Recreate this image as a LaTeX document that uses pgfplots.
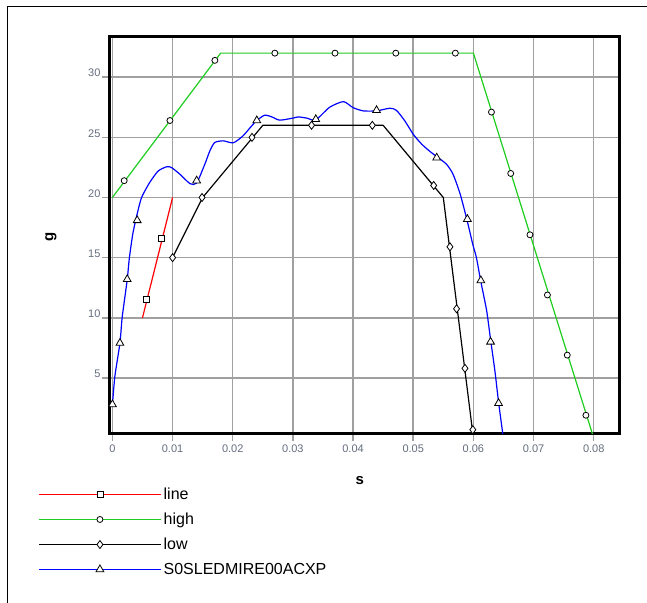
\documentclass[border=0pt]{standalone}
\usepackage{fontspec}
\setmainfont{Liberation Sans}
\usepackage{pgfplots}
\pgfplotsset{compat=1.18}
\usetikzlibrary{calc}
\definecolor{gridgray}{RGB}{160,160,160}
\definecolor{ticktext}{RGB}{100,108,125}
\definecolor{lgreen}{RGB}{30,205,30}

\begin{document}
\begin{tikzpicture}
\begin{axis}[
  name=ax, anchor=south west,
  scale only axis, width=509pt, height=397pt,
  xmin=-0.0004, xmax=0.0842, ymin=0.4, ymax=33.4,
  scaled x ticks=false, scaled y ticks=false,
  xtick={0,0.01,0.02,0.03,0.04,0.05,0.06,0.07,0.08},
  xticklabels={0,0.01,0.02,0.03,0.04,0.05,0.06,0.07,0.08},
  ytick={5,10,15,20,25,30},
  yticklabels={5,10,15,20,25,30},
  xtick pos=bottom, ytick pos=left,
  tick align=outside, major tick length=8pt,
  tick style={gridgray, line width=1.5pt},
  grid=major, major grid style={gridgray, line width=1.5pt},
  axis line style={line width=3pt},
  ticklabel style={font=\fontsize{11}{12}\selectfont, text=ticktext},
  yticklabel style={yshift=4pt, xshift=2pt},
  xlabel={s}, ylabel={g},
  label style={font=\fontsize{15}{16}\selectfont\bfseries},
  xlabel style={at={(axis description cs:0.491,-0.118)}, anchor=center},
  ylabel style={at={(axis description cs:-0.116,0.494)}, anchor=center},
  legend style={at={(axis description cs:-0.1415,-0.1318)}, anchor=north west,
    draw=none, fill=none, font=\fontsize{16}{18}\selectfont,
    row sep=8pt, inner sep=0pt},
  legend cell align=left,
  legend image code/.code={%
    \draw[#1,mark=none,line width=1.5pt] (0pt,0pt) -- (122pt,0pt);
    \draw[#1,draw=none,mark repeat=2,mark phase=2]
      plot coordinates {(0pt,0pt) (61pt,0pt) (122pt,0pt)};},
  every axis plot/.append style={line width=1.2pt},
]
% line
\addplot[red, mark=square*, mark size=3pt, mark phase=999,
  mark options={black, fill=white, line width=0.8pt}]
  coordinates {(0.005,10) (0.010,20)};
\addlegendentry{line}
% high
\addplot[lgreen, mark=*, mark size=3pt, mark phase=999,
  mark options={black, fill=white, line width=0.8pt}]
  coordinates {(0,20) (0.018,32) (0.060,32) (0.080,0)};
\addlegendentry{high}
% low
\addplot[black, mark=diamond*, mark size=4pt, mark phase=999,
  mark options={black, fill=white, line width=0.8pt}]
  coordinates {(0.010,15) (0.015,20) (0.025,26) (0.045,26) (0.055,20) (0.060,0)};
\addlegendentry{low}
% S0SLEDMIRE00ACXP
\addplot[blue, smooth, tension=0.4, mark=triangle*, mark size=4.5pt, mark phase=999,
  mark options={black, fill=white, line width=0.8pt}]
  coordinates {
  (0,2.7) (0.0004,5.1) (0.00125,7.9) (0.00163,10.06) (0.00246,13.16)
  (0.0028,14.9) (0.0034,17.0) (0.0041,18.6) (0.00485,20.0) (0.0062,21.25)
  (0.0076,22.2) (0.009,22.55) (0.0098,22.5) (0.0113,21.9) (0.0129,21.15)
  (0.0140,21.2) (0.01537,22.78) (0.0162,23.88) (0.0170,24.57) (0.0184,24.71)
  (0.0201,24.55) (0.0217,25.12) (0.0229,25.81) (0.0240,26.4) (0.0253,26.84)
  (0.0265,26.7) (0.0278,26.43) (0.0300,26.6) (0.0309,26.7) (0.0323,26.6)
  (0.0338,26.45) (0.0361,27.5) (0.0384,27.97) (0.0400,27.47) (0.0417,27.2)
  (0.0439,27.2) (0.0461,27.42) (0.0472,27.25) (0.0486,26.37) (0.0500,25.26)
  (0.0514,24.44) (0.0528,23.82) (0.0539,23.4) (0.0555,22.78) (0.0566,21.95)
  (0.0578,20.29) (0.0590,18.0) (0.0599,16.1) (0.0605,15.0) (0.06124,13.0)
  (0.0622,10.6) (0.06285,8.2) (0.06357,5.6) (0.06418,3.0) (0.0649,0.3)
  };
\addlegendentry{S0SLEDMIRE00ACXP}
% markers
\addplot[only marks, forget plot, mark=square*, mark size=3pt,
  mark options={black, fill=white, line width=0.8pt}]
  coordinates {(0.0056,11.5) (0.0081,16.6)};
\addplot[only marks, forget plot, mark=*, mark size=3pt,
  mark options={black, fill=white, line width=0.8pt}]
  coordinates {(0.00196,21.4) (0.00956,26.4) (0.01703,31.4) (0.027,32) (0.037,32)
  (0.0471,32) (0.0570,32) (0.0630,27.1) (0.0662,22.0) (0.0694,16.9)
  (0.0723,11.9) (0.0756,6.9) (0.0787,1.9)};
\addplot[only marks, forget plot, mark=diamond*, mark size=4pt,
  mark options={black, fill=white, line width=0.8pt}]
  coordinates {(0.010,15) (0.0149,20) (0.0232,25) (0.0331,26) (0.0432,26)
  (0.0534,21) (0.0561,15.9) (0.0572,10.75) (0.0586,5.8) (0.0599,0.7)};
\addplot[only marks, forget plot, mark=triangle*, mark size=4.5pt,
  mark options={black, fill=white, line width=0.8pt}]
  coordinates {(0,2.8) (0.00125,7.9) (0.00246,13.2) (0.00412,18.1) (0.014,21.4)
  (0.024,26.4) (0.0338,26.5) (0.0439,27.25) (0.0539,23.3) (0.059,18.2)
  (0.06124,13.1) (0.06285,8.0) (0.06418,2.9)};
\end{axis}
\pgfresetboundingbox
\path[use as bounding box] ($(ax.south west)+(-110pt,-168.7pt)$)
  rectangle ($(ax.south west)+(537pt,433.3pt)$);
\draw[line width=1pt] ($(ax.south west)+(-102pt,-170pt)$)
  -- ($(ax.south west)+(-102pt,426.8pt)$) -- ($(ax.south west)+(540pt,426.8pt)$);
\end{tikzpicture}
\end{document}
